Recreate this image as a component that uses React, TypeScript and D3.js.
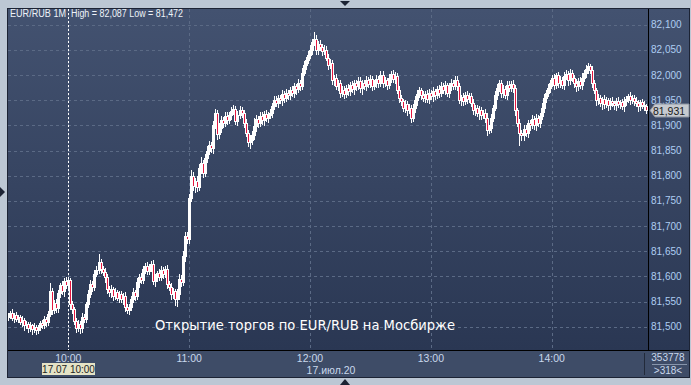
import React from "react";
import * as d3 from "d3";

// Prices in thousandths above BASE (81.000 RUB), one bar per minute starting 09:30
const BASE = 81;
const firstOpen = 520;
const closes = [
  522, 528, 518, 524, 515, 519, 510, 514, 503, 506,
  497, 503, 495, 500, 494, 499, 508, 503, 515, 510,
  526, 570, 534, 548, 538, 566, 582, 570, 590, 583,
  592, 545, 535, 512, 498, 506, 497, 520, 515, 545,
  565, 585, 578, 605, 612, 628, 615, 608, 598, 575,
  568, 575, 562, 568, 558, 565, 555, 562, 540, 533,
  540, 555, 568, 562, 588, 598, 592, 615, 620, 610,
  618, 625, 590, 598, 606, 598, 612, 605, 615, 585,
  578, 565, 570, 555, 565, 595, 588, 640, 680, 675,
  755, 800, 780, 790, 778, 815, 826, 806, 835, 850,
  862, 855, 900, 925, 882, 895, 910, 905, 918, 910,
  920, 928, 932, 908, 920, 930, 925, 905, 885, 868,
  872, 880, 898, 912, 905, 918, 910, 922, 915, 920,
  925, 938, 950, 945, 955, 950, 962, 955, 965, 960,
  970, 965, 978, 972, 985, 978, 1005, 1020, 1030, 1040,
  1050, 1065, 1072, 1050, 1062, 1055, 1048, 1050, 1035, 1020,
  1025, 990, 995, 978, 985, 965, 970, 962, 975, 968,
  980, 972, 985, 978, 988, 975, 985, 978, 990, 982,
  992, 978, 985, 992, 985, 1000, 985, 990, 980, 995,
  1002, 992, 998, 970, 955, 948, 935, 942, 930, 935,
  915, 935, 950, 962, 970, 960, 955, 962, 952, 965,
  958, 968, 960, 972, 965, 978, 970, 980, 965, 978,
  985, 978, 990, 978, 950, 956, 948, 960, 952, 958,
  945, 930, 935, 925, 930, 920, 925, 915, 890, 895,
  915, 935, 960, 975, 985, 965, 972, 960, 980, 975,
  982, 975, 930, 905, 885, 880, 892, 885, 905, 900,
  912, 900, 915, 905, 918, 935, 955, 965, 975, 985,
  995, 980, 1000, 985, 990, 980, 998, 1002, 990, 1005,
  995, 985, 978, 988, 980, 995, 1005, 1012, 1018, 1010,
  985, 970, 950, 955, 945, 952, 942, 950, 940, 948,
  944, 940, 948, 942, 946, 938, 948, 952, 958, 950,
  955, 948, 945, 938, 946, 940, 938, 931,
];
const upperWicks = [
  5, 4, 7, 3, 6, 4, 5, 7, 4, 6,
  4, 6, 3, 7, 4, 5, 3, 6, 7, 4,
  5, 16, 6, 5, 8, 6, 5, 8, 6, 9,
  6, 5, 7, 4, 5, 7, 5, 8, 6, 5,
  7, 8, 5, 7, 9, 17, 6, 5, 8, 6,
  5, 7, 4, 8, 5, 6, 5, 4, 7, 5,
  5, 7, 8, 5, 9, 6, 8, 5, 7, 8,
  6, 5, 8, 7, 5, 8, 9, 6, 5, 7,
  5, 8, 6, 5, 10, 9, 8, 10, 9, 8,
  9, 12, 8, 6, 9, 8, 11, 6, 8, 9,
  8, 6, 9, 8, 6, 9, 8, 6, 9, 8,
  6, 9, 8, 6, 8, 9, 6, 5, 8, 6,
  8, 9, 16, 8, 6, 9, 8, 6, 8, 6,
  8, 6, 9, 8, 6, 5, 8, 6, 8, 6,
  6, 8, 6, 5, 8, 6, 9, 8, 6, 8,
  9, 6, 13, 8, 6, 8, 6, 9, 8, 6,
  8, 6, 5, 8, 6, 5, 8, 9, 6, 8,
  6, 8, 5, 6, 9, 8, 6, 5, 8, 6,
  8, 6, 5, 8, 6, 9, 8, 6, 5, 8,
  6, 8, 9, 6, 8, 6, 5, 8, 6, 8,
  6, 8, 9, 8, 6, 5, 8, 6, 9, 8,
  6, 8, 5, 6, 8, 9, 6, 8, 5, 6,
  8, 6, 9, 8, 6, 5, 8, 6, 8, 6,
  6, 8, 5, 6, 8, 6, 5, 8, 9, 6,
  8, 6, 9, 8, 6, 5, 8, 6, 8, 9,
  6, 8, 6, 5, 8, 6, 9, 8, 6, 5,
  8, 6, 8, 5, 6, 9, 8, 6, 8, 6,
  6, 8, 5, 6, 8, 6, 9, 8, 6, 8,
  6, 5, 8, 6, 8, 9, 6, 8, 6, 5,
  8, 6, 5, 8, 6, 5, 8, 6, 5, 6,
  8, 5, 6, 8, 5, 6, 8, 6, 5, 8,
  6, 5, 8, 6, 5, 6, 8, 5,
];
const lowerWicks = [
  6, 5, 5, 8, 4, 6, 5, 8, 9, 6,
  8, 6, 9, 5, 8, 6, 5, 6, 5, 8,
  6, 5, 8, 6, 9, 8, 6, 5, 8, 6,
  6, 9, 8, 6, 8, 6, 9, 8, 6, 5,
  6, 5, 8, 6, 5, 6, 8, 6, 9, 8,
  6, 8, 9, 6, 5, 8, 6, 9, 8, 6,
  8, 6, 5, 8, 6, 9, 5, 6, 8, 6,
  5, 8, 6, 9, 8, 6, 5, 8, 6, 8,
  6, 9, 8, 12, 14, 9, 8, 6, 9, 8,
  8, 6, 9, 12, 8, 6, 9, 8, 6, 8,
  6, 8, 9, 6, 8, 6, 9, 8, 6, 8,
  6, 8, 5, 6, 8, 6, 9, 8, 6, 9,
  12, 8, 6, 9, 8, 6, 8, 9, 6, 8,
  6, 8, 5, 6, 8, 6, 9, 8, 6, 8,
  8, 6, 8, 9, 6, 8, 6, 5, 8, 6,
  6, 8, 6, 8, 9, 6, 8, 6, 5, 8,
  6, 8, 9, 6, 8, 9, 6, 8, 6, 8,
  8, 6, 9, 8, 6, 8, 12, 6, 8, 6,
  6, 8, 6, 9, 8, 6, 8, 6, 8, 6,
  8, 6, 8, 6, 9, 8, 6, 8, 9, 6,
  8, 6, 8, 9, 6, 8, 6, 8, 6, 8,
  6, 9, 8, 6, 8, 6, 5, 8, 6, 8,
  8, 6, 5, 8, 6, 9, 8, 6, 8, 6,
  6, 8, 9, 6, 12, 8, 6, 8, 9, 6,
  8, 6, 5, 8, 6, 9, 8, 6, 8, 6,
  6, 8, 9, 6, 24, 9, 8, 6, 8, 9,
  6, 8, 9, 6, 8, 6, 9, 8, 6, 8,
  6, 8, 6, 9, 8, 6, 8, 6, 9, 8,
  6, 8, 9, 8, 6, 8, 6, 9, 8, 6,
  8, 6, 9, 8, 6, 12, 8, 6, 9, 8,
  6, 8, 9, 6, 8, 6, 9, 8, 6, 8,
  6, 8, 6, 9, 8, 6, 8, 6,
];

const yTicks = [81.5, 81.55, 81.6, 81.65, 81.7, 81.75, 81.8, 81.85, 81.9, 81.95, 82.0, 82.05, 82.1];
const hourTicks = [
  { min: 30, label: "10:00" },
  { min: 90, label: "11:00" },
  { min: 150, label: "12:00" },
  { min: 210, label: "13:00" },
  { min: 270, label: "14:00" },
];
const titleLeft = "EUR/RUB 1M";
const titleRight = "High = 82,087 Low = 81,472";
const overlayText = "Открытие торгов по EUR/RUB на Мосбирже";
const dateLabel = "17.июл.20";
const cursorLabel = "17.07 10:00";
const cursorMin = 30;
const lastPriceLabel = "81,931";
const volumeLabel = "353778";
const barsLabel = ">318<";

const W = 691, H = 385;
const PL = 8, PR = 648, PT = 9, PB = 350;

export default function App() {
  const x = d3.scaleLinear().domain([30, 270]).range([68.3, 551.7]);
  const y = d3.scaleLinear().domain([81.5, 82.1]).range([326.7, 24.8]);
  const fmt = (v: number) => d3.format(".3f")(v).replace(".", ",");

  const bars = closes.map((c, i) => {
    const o = i === 0 ? firstOpen : closes[i - 1];
    const hi = Math.max(o, c) + upperWicks[i];
    const lo = Math.min(o, c) - lowerWicks[i];
    return { i, o: BASE + o / 1000, c: BASE + c / 1000, h: BASE + hi / 1000, l: BASE + lo / 1000 };
  });

  const font = "'Liberation Sans', Arial, sans-serif";
  const last = bars[bars.length - 1];
  const lastY = Math.round(y(last.c)) + 0.5;

  return (
    <svg width={W} height={H} style={{ position: "absolute", left: 0, top: 0 }}>
      <defs>
        <linearGradient id="plotBg" x1="0" y1="0" x2="0" y2="1">
          <stop offset="0" stopColor="#435270" />
          <stop offset="1" stopColor="#2a3753" />
        </linearGradient>
        <clipPath id="plotClip">
          <rect x={PL} y={PT} width={PR - PL} height={PB - PT} />
        </clipPath>
      </defs>
      <rect x={0} y={0} width={W} height={H} fill="#bcc7d4" />
      <rect x={7} y={8} width={683} height={370} fill="#1c2334" />
      <rect x={PL} y={PT} width={PR - PL} height={PB - PT} fill="url(#plotBg)" />
      <rect x={PR + 1} y={PT} width={689 - PR - 1} height={PB - PT} fill="url(#plotBg)" />
      <rect x={PL} y={PB + 1} width={689 - PL} height={26} fill="#3e4c67" />
      <line x1={PR + 0.5} x2={PR + 0.5} y1={PT} y2={PB} stroke="#000" />
      <line x1={PL} x2={689} y1={PB + 0.5} y2={PB + 0.5} stroke="#000" />
      <line x1={644.5} x2={644.5} y1={353} y2={375} stroke="#222a3a" />
      <g clipPath="url(#plotClip)">
        {yTicks.map((t) => (
          <line key={t} x1={PL} x2={PR} y1={Math.round(y(t)) + 0.5} y2={Math.round(y(t)) + 0.5}
            stroke="#5b6a85" strokeDasharray="3,3" />
        ))}
        {hourTicks.map((t) => (
          <line key={t.label} x1={Math.round(x(t.min)) + 0.5} x2={Math.round(x(t.min)) + 0.5} y1={PT} y2={PB}
            stroke="#5b6a85" strokeDasharray="3,3" />
        ))}
        {bars.map((b) => {
          const cx = Math.round(x(b.i));
          const top = Math.round(y(Math.max(b.o, b.c)));
          const bot = Math.round(y(Math.min(b.o, b.c)));
          const hY = Math.round(y(b.h));
          const lY = Math.round(y(b.l));
          const bh = Math.max(1, bot - top + 1);
          const down = b.c < b.o;
          return (
            <g key={b.i}>
              <rect x={cx} y={hY} width={1} height={Math.max(1, lY - hY + 1)} fill="#ffffff" />
              <rect x={cx - 1} y={top} width={3} height={bh} fill="#ffffff" />
              {down && bh > 2 && <rect x={cx} y={top + 1} width={1} height={bh - 2} fill="#e5163f" />}
            </g>
          );
        })}
        <line x1={Math.round(x(cursorMin)) + 0.5} x2={Math.round(x(cursorMin)) + 0.5} y1={PT} y2={PB}
          stroke="#ffffff" strokeDasharray="2,2" />
      </g>
      <text x={10} y={17} fill="#eef2f8" fontFamily={font} fontSize={10} textLength={56} lengthAdjust="spacingAndGlyphs">{titleLeft}</text>
      <text x={71} y={17} fill="#eef2f8" fontFamily={font} fontSize={10} textLength={112} lengthAdjust="spacingAndGlyphs">{titleRight}</text>
      <text x={155} y={330} fill="#ffffff" fontFamily="'DejaVu Sans', sans-serif" fontSize={13.5}
        textLength={300} lengthAdjust="spacingAndGlyphs">{overlayText}</text>
      {yTicks.map((t) => (
        <text key={t} x={651} y={y(t) + 3.5} fill="#aecdf2" fontFamily={font} fontSize={10}>{fmt(t)}</text>
      ))}
      <path d={`M${PR + 2},${lastY} L${PR + 7},${lastY - 6.5} L689,${lastY - 6.5} L689,${lastY + 6.5} L${PR + 7},${lastY + 6.5} Z`}
        fill="#c6cad0" stroke="#8b93a0" />
      <text x={653} y={lastY + 4} fill="#1a1a1a" fontFamily={font} fontSize={10.5}>{lastPriceLabel}</text>
      {hourTicks.map((t) => (
        <text key={t.label} x={x(t.min)} y={362} textAnchor="middle" fill="#c9d8ec" fontFamily={font} fontSize={10.5}>{t.label}</text>
      ))}
      <text x={331} y={374} textAnchor="middle" fill="#c9d8ec" fontFamily={font} fontSize={10.5}>{dateLabel}</text>
      <rect x={42} y={363} width={53} height={12} fill="#e5e3c6" />
      <text x={68.5} y={373} textAnchor="middle" fill="#222" fontFamily={font} fontSize={10}>{cursorLabel}</text>
      <text x={668} y={361} textAnchor="middle" fill="#c9d8ec" fontFamily={font} fontSize={10}>{volumeLabel}</text>
      <line x1={652} x2={687} y1={364.5} y2={364.5} stroke="#8795ab" />
      <text x={668} y={374} textAnchor="middle" fill="#c9d8ec" fontFamily={font} fontSize={10}>{barsLabel}</text>
      <path d="M340,1 L350,1 L345,6 Z" fill="#1c2334" />
      <path d="M340,385 L350,385 L345,379 Z" fill="#1c2334" />
      <path d="M0,187 L5,192 L0,197 Z" fill="#1c2334" />
    </svg>
  );
}
